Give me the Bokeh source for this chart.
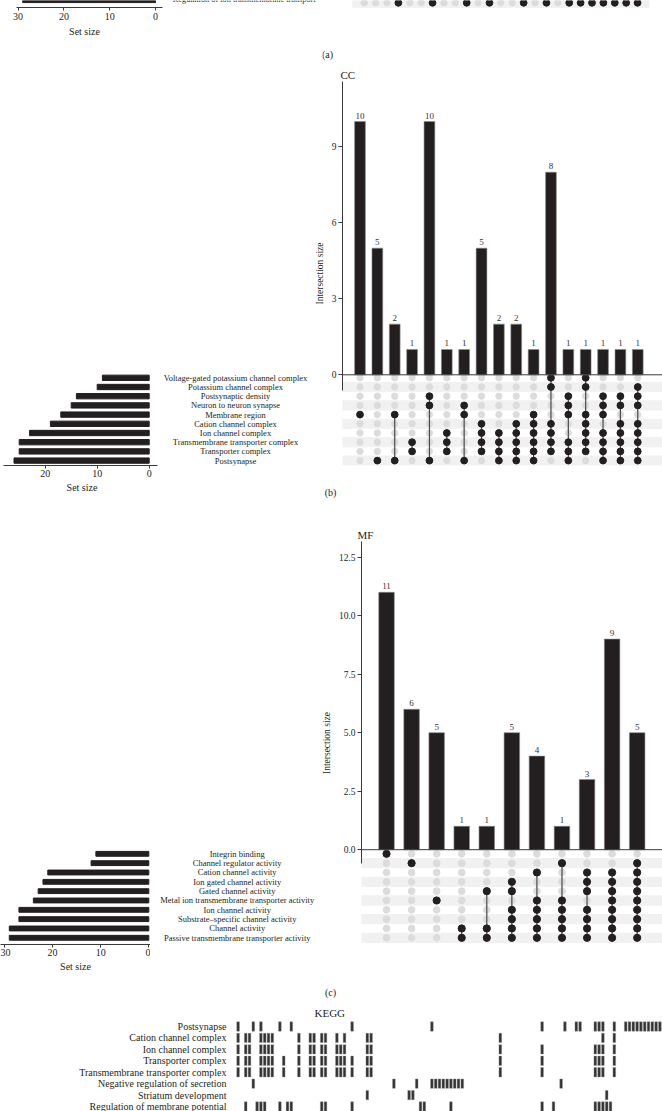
from bokeh.plotting import figure
from bokeh.models import Range1d, Span, ColumnDataSource, FixedTicker
from bokeh.layouts import column, row
from bokeh.embed import file_html
from bokeh.resources import INLINE
from bokeh.core.properties import value

FONT = "Liberation Serif"
INK = "#231f20"
AXIS = "#3a3a3a"
DOT_OFF = "#dcdcdc"
STRIPE = "#f1f1f1"
PAGE_R = 662
PAGE_B = 1111

# ---------------- data ----------------
# (a) tail: last set row of the BP panel
a_set = "Regulation of ion transmembrane transport"
a_set_size = 29
a_ncols = 25
a_row_members = [4, 7, 10, 12, 15, 17, 19, 20, 21, 22, 23, 24, 25]
a_ticks = [0, 10, 20, 30]

cc_sets = ["Voltage-gated potassium channel complex", "Potassium channel complex",
           "Postsynaptic density", "Neuron to neuron synapse", "Membrane region",
           "Cation channel complex", "Ion channel complex",
           "Transmembrane transporter complex", "Transporter complex", "Postsynapse"]
cc_set_sizes = [9, 10, 14, 15, 17, 19, 23, 25, 25, 26]
cc_sizes = [10, 5, 2, 1, 10, 1, 1, 5, 2, 2, 1, 8, 1, 1, 1, 1, 1]
cc_members = [[4], [9], [4, 9], [7, 8], [2, 3, 9], [6, 7, 8], [3, 4, 9],
              [5, 6, 7, 8], [6, 7, 8, 9], [5, 6, 7, 8, 9], [4, 5, 6, 7, 8, 9],
              [0, 1, 5, 6, 7, 8], [2, 3, 4, 7, 8, 9], [0, 1, 4, 5, 6, 7, 8],
              [2, 3, 4, 6, 7, 8, 9], [2, 3, 5, 6, 7, 8, 9], [1, 2, 3, 5, 6, 7, 8, 9]]
cc_yticks = [0, 3, 6, 9]
cc_sstick = [0, 10, 20]

mf_sets = ["Integrin binding", "Channel regulator activity", "Cation channel activity",
           "Ion gated channel activity", "Gated channel activity",
           "Metal ion transmembrane transporter activity", "Ion channel activity",
           "Substrate\u2013specific channel activity", "Channel activity",
           "Passive transmembrane transporter activity"]
mf_set_sizes = [11, 12, 21, 22, 23, 24, 27, 27, 29, 29]
mf_sizes = [11, 6, 5, 1, 1, 5, 4, 1, 3, 9, 5]
mf_members = [[0], [1], [5], [8, 9], [4, 8, 9], [3, 4, 6, 7, 8, 9], [2, 5, 6, 7, 8, 9],
              [1, 5, 6, 7, 8, 9], [2, 3, 4, 6, 7, 8, 9], [2, 3, 4, 5, 6, 7, 8, 9],
              [1, 2, 3, 4, 5, 6, 7, 8, 9]]
mf_yticks = [0, 2.5, 5, 7.5, 10, 12.5]
mf_sstick = [0, 10, 20, 30]

kegg_terms = ["Postsynapse", "Cation channel complex", "Ion channel complex",
              "Transporter complex", "Transmembrane transporter complex",
              "Negative regulation of secretion", "Striatum development",
              "Regulation of membrane potential"]
kegg_cells = [
    [0, 4, 6, 11, 14, 30, 51, 80, 86, 89, 90, 94, 95, 96, 99, 102, 103, 104, 105,
     106, 107, 108, 109, 110, 111],
    [0, 2, 3, 6, 7, 8, 9, 16, 19, 20, 22, 23, 26, 28, 34, 35, 69, 96, 99],
    [0, 2, 3, 6, 7, 8, 9, 16, 19, 20, 22, 23, 26, 27, 28, 34, 35, 69, 80, 94, 95, 96, 99],
    [0, 2, 3, 6, 7, 8, 9, 12, 16, 19, 20, 22, 23, 26, 27, 28, 30, 34, 35, 69, 80,
     94, 95, 96, 99],
    [0, 2, 3, 6, 7, 8, 9, 12, 16, 19, 20, 22, 23, 26, 27, 28, 30, 34, 35, 69, 80,
     94, 95, 96, 99],
    [4, 41, 47, 51, 52, 53, 54, 55, 56, 57, 58, 59, 85],
    [34, 45, 46, 97],
    [2, 5, 6, 7, 11, 13, 14, 22, 23, 30, 48, 49, 56, 80, 83, 94, 95, 96, 97, 98],
]


# ---------------- helpers ----------------
def fig(**kw):
    p = figure(output_backend="svg", toolbar_location=None, tools="", **kw)
    p.grid.visible = False
    p.outline_line_color = None
    p.background_fill_color = "white"
    p.border_fill_color = "white"
    return p


def style_axis(ax, ticks, label, tick_size="10px", label_size="10px"):
    ax.ticker = FixedTicker(ticks=ticks)
    ax.axis_line_color = AXIS
    ax.major_tick_line_color = AXIS
    ax.minor_tick_line_color = None
    ax.major_tick_in = 0
    ax.major_tick_out = 3
    ax.major_label_text_font = FONT
    ax.major_label_text_font_size = tick_size
    ax.major_label_text_color = INK
    ax.axis_label = label
    ax.axis_label_text_font = FONT
    ax.axis_label_text_font_size = label_size
    ax.axis_label_text_font_style = "normal"
    ax.axis_label_text_color = INK


def set_title(p, text, offset, standoff=1):
    p.title.text = text
    p.title.align = "left"
    p.title.offset = offset
    p.title.standoff = standoff
    p.title.text_font = FONT
    p.title.text_font_size = "11px"
    p.title.text_font_style = "normal"
    p.title.text_color = INK


def add_caption(p, text, x, y, **kw):
    p.text(x=[x], y=[y], text=[text], text_align="center", text_baseline="middle",
           text_font=value(FONT), text_font_size="10px", text_color=INK, **kw)


def caption_strip(text, left, top, bot, cx, cy):
    c = fig(width=PAGE_R - left, height=bot - top, x_range=Range1d(left, PAGE_R),
            y_range=Range1d(bot, top), min_border_left=0, min_border_right=0,
            min_border_top=0, min_border_bottom=0)
    c.axis.visible = False
    add_caption(c, text, cx, cy)
    return c


def upset(sets, set_sizes, sizes, members, yticks, ssticks, g):
    n = len(sets)
    top, ftop, fbot, bot, ctop = g["top"], g["ftop"], g["fbot"], g["bot"], g["cap_top"]
    wl, split, fl = g["ssframe"], g["split"], g["frame_left"]
    # ---- right: intersection bars + matrix
    xs = 1 - (g["col1"] - fl) / g["cpitch"]
    xe = xs + (PAGE_R - fl) / g["cpitch"]
    ys = -(fbot - g["zero"]) / g["ppu"]
    ye = (g["zero"] - ftop) / g["ppu"]
    ms = (g["rowb"] - fbot) / g["rpitch"]
    me = (g["rowb"] - ftop) / g["rpitch"]
    upper = dict(min_border_top=ftop - top, min_border_bottom=ctop - fbot,
                 min_border_right=0)
    p = fig(width=PAGE_R - split, height=ctop - top, x_range=Range1d(xs, xe),
            y_range=Range1d(ys, ye), min_border_left=fl - split, **upper)
    p.extra_y_ranges = {"mat": Range1d(ms, me)}
    p.xaxis.visible = False
    style_axis(p.yaxis[0], yticks, "Intersection size", "9.5px", "9.5px")
    p.yaxis[0].bounds = (g["ylo"], ye)
    p.yaxis[0].major_tick_out = 4
    p.yaxis[0].major_label_standoff = 2
    p.yaxis[0].axis_label_standoff = 4
    if g.get("fmt"):
        p.yaxis[0].major_label_overrides = {t: f"{t:.1f}" for t in yticks}
    set_title(p, g["title"], g["title_off"])

    cols = list(range(1, len(sizes) + 1))
    rows_m = [n - 1 - i for i in range(n)]
    stripe_rows = [m for m in rows_m if m % 2 == 0]
    p.hbar(y=stripe_rows, left=xs, right=xe, height=1, color=STRIPE,
           y_range_name="mat")
    gx = [c for c in cols for _ in range(n)]
    gy = [m for _ in cols for m in rows_m]
    p.scatter(gx, gy, size=g["dot"] - 0.5, color=DOT_OFF, y_range_name="mat")
    seg = dict(x0=[], y0=[], x1=[], y1=[])
    bx, by = [], []
    for c, mem in zip(cols, members):
        mm = [n - 1 - i for i in mem]
        bx += [c] * len(mm)
        by += mm
        if len(mm) > 1:
            seg["x0"].append(c); seg["x1"].append(c)
            seg["y0"].append(min(mm)); seg["y1"].append(max(mm))
    p.segment(source=ColumnDataSource(seg), x0="x0", y0="y0", x1="x1", y1="y1",
              line_color="#4a4a4a", line_width=1.2, y_range_name="mat")
    p.scatter(bx, by, size=g["dot"], color=INK, y_range_name="mat")

    p.vbar(x=cols, top=sizes, width=0.62, fill_color=INK, line_color="#8a8a8a",
           line_width=0.6)
    p.text(x=cols, y=sizes, text=[str(v) for v in sizes], text_align="center",
           text_baseline="bottom", y_offset=-3, text_font=value(FONT),
           text_font_size="9px", text_color="#333333")
    p.add_layout(Span(location=0, dimension="width", line_color=AXIS, line_width=1))

    # ---- left: set sizes (full block height, axis below)
    vL = lambda px: (g["sszero"] - px) / g["ssppu"]
    q = fig(width=wl, height=bot - top, x_range=Range1d(vL(0), vL(wl)),
            y_range=Range1d(ms, me), min_border_left=0, min_border_right=0,
            min_border_top=ftop - top, min_border_bottom=bot - fbot)
    q.yaxis.visible = False
    style_axis(q.xaxis[0], ssticks, "Set size")
    q.xaxis[0].bounds = (vL(g["ssright"]), vL(g["ssleft"]))
    q.xaxis[0].major_label_standoff = 1
    q.xaxis[0].axis_label_standoff = 2
    q.hbar(y=rows_m, left=0, right=set_sizes, height=g["barh"], color=INK)

    # ---- middle: set names
    t = fig(width=split - wl, height=ctop - top, x_range=Range1d(wl, split),
            y_range=Range1d(ms, me), min_border_left=0, **upper)
    t.axis.visible = False
    t.text(x=[g["labx"]] * n, y=rows_m, text=sets, text_align="center",
           text_baseline="middle", text_font=value(FONT),
           text_font_size="8.5px", text_color=INK)

    c = caption_strip(g["cap"], wl, ctop, bot, g["cap_x"], g["cap_y"])
    return row(q, column(row(t, p, spacing=0), c, spacing=0), spacing=0)


# ---------------- block A : tail of panel (a) ----------------
A_H, A_F = 64, 7          # block height, frame height of the set-size strip
A_SPLIT = 322
a_rpitch = 9.2
a_bar_px, a_dot_px, a_lab_px = -0.6, 2.3, -0.6
vA = lambda px: (155 - px) / 4.58
pa = fig(width=168, height=A_H, x_range=Range1d(vA(0), vA(168)),
         y_range=Range1d(-(A_F - a_bar_px) / a_rpitch, a_bar_px / a_rpitch),
         min_border_top=0, min_border_bottom=A_H - A_F, min_border_right=0,
         min_border_left=0)
pa.yaxis.visible = False
style_axis(pa.xaxis[0], a_ticks, "Set size")
pa.xaxis[0].bounds = (vA(161.6), vA(16))
pa.xaxis[0].major_label_standoff = 2
pa.xaxis[0].axis_label_standoff = 3
pa.hbar(y=[0], left=0, right=[a_set_size], height=0.58, color=INK)

full = dict(min_border_top=0, min_border_bottom=0, min_border_left=0,
            min_border_right=0)
pat = fig(width=A_SPLIT - 168, height=A_H, x_range=Range1d(168, A_SPLIT),
          y_range=Range1d(-(A_H - a_lab_px) / a_rpitch, a_lab_px / a_rpitch), **full)
pat.axis.visible = False
pat.text(x=[243.7], y=[0], text=[a_set], text_align="center", text_baseline="middle",
         text_font=value(FONT), text_font_size="8.3px", text_color=INK)

a_col1, a_cpitch = 363.7, 11.39
axs = 1 - (a_col1 - A_SPLIT) / a_cpitch
axe = axs + (PAGE_R - A_SPLIT) / a_cpitch
par = fig(width=PAGE_R - A_SPLIT, height=A_H, x_range=Range1d(axs, axe),
          y_range=Range1d(-(A_H - a_dot_px) / a_rpitch, a_dot_px / a_rpitch), **full)
par.axis.visible = False
a_cols = list(range(1, a_ncols + 1))
par.hbar(y=[0], left=0, right=a_ncols + 1, height=1, color=STRIPE)
par.scatter(a_cols, [0] * a_ncols, size=6.3, color=DOT_OFF)
par.scatter(a_row_members, [0] * len(a_row_members), size=6.8, color=INK)
add_caption(par, "(a)", axs + (327 - A_SPLIT) / a_cpitch, -(54.3 - a_dot_px) / a_rpitch)
blockA = row(pa, column(row(pat, par, spacing=0), spacing=0), spacing=0)

# ---------------- block B : CC ----------------
gB = dict(top=64, ftop=81, fbot=465, cap_top=470, bot=505, ssframe=163, split=310,
          frame_left=342, col1=359.5, cpitch=17.36, zero=374.3, ppu=25.33, ylo=-0.63,
          rowb=460.1, rpitch=9.2, dot=6.8, barh=0.58,
          sszero=148.7, ssppu=5.2, ssleft=3.3, ssright=156.7, labx=235,
          title="CC", title_off=-2, cap="(b)", cap_x=330, cap_y=491.7)
blockB = upset(cc_sets, cc_set_sizes, cc_sizes, cc_members, cc_yticks, cc_sstick, gB)

# ---------------- block C : MF ----------------
gC = dict(top=505, ftop=541, fbot=944, cap_top=950, bot=1000, ssframe=150, split=318,
          frame_left=353, col1=378.7, cpitch=25.73, zero=849.2, ppu=23.4, ylo=-0.59,
          rowb=937.3, rpitch=9.33, dot=7.2, barh=0.52,
          sszero=148.3, ssppu=4.81, ssleft=0, ssright=150, labx=236.7,
          title="MF", title_off=-4, cap="(c)", cap_x=330, cap_y=991.7, fmt=True)
blockC = upset(mf_sets, mf_set_sizes, mf_sizes, mf_members, mf_yticks, mf_sstick, gC)

# ---------------- block D : KEGG ----------------
D_TOP = 1000
kx_left = 234
kpitch = 3.8
kcol0 = 237.6
krow0, krpitch = 1026, 11.43
kftop = 1020
kxs = -(kcol0 - kx_left) / kpitch
kxe = kxs + (PAGE_R - kx_left) / kpitch
pk = fig(width=PAGE_R, height=PAGE_B - D_TOP,
         x_range=Range1d(kxs, kxe),
         y_range=Range1d((PAGE_B - krow0) / krpitch, (kftop - krow0) / krpitch),
         min_border_left=kx_left, min_border_right=0,
         min_border_top=kftop - D_TOP, min_border_bottom=0)
pk.xaxis.visible = False
ya = pk.yaxis[0]
ya.ticker = FixedTicker(ticks=list(range(len(kegg_terms))))
ya.major_label_overrides = {i: t for i, t in enumerate(kegg_terms)}
ya.axis_line_color = None
ya.major_tick_line_color = None
ya.minor_tick_line_color = None
ya.major_label_standoff = 2
ya.major_label_text_font = FONT
ya.major_label_text_font_size = "10px"
ya.major_label_text_color = INK
kx, ky = [], []
for r, cells in enumerate(kegg_cells):
    kx += cells
    ky += [r] * len(cells)
pk.rect(x=kx, y=ky, width=0.7, height=0.82, fill_color="#333333",
        line_color="#8c8c8c", line_width=0.4)
set_title(pk, "KEGG", 80, standoff=3)

page = column(blockA, blockB, blockC, row(pk, spacing=0), spacing=0)
open("out.html", "w").write(file_html(page, INLINE))
